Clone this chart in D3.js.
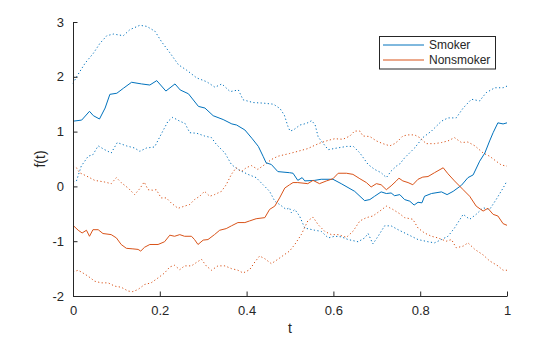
<!DOCTYPE html>
<html><head><meta charset="utf-8">
<script src="https://cdn.jsdelivr.net/npm/d3@7"></script>
<style>body{margin:0;background:#fff}svg{display:block}text{font-family:"Liberation Sans",Arial,sans-serif;fill:#262626}</style>
</head><body><svg id="c" width="560" height="337"></svg>
<script>
const xTicks = [0, 0.2, 0.4, 0.6, 0.8, 1];
const xTickLabels = ["0", "0.2", "0.4", "0.6", "0.8", "1"];
const yTicks = [-2, -1, 0, 1, 2, 3];
const yTickLabels = ["-2", "-1", "0", "1", "2", "3"];
const seriesNames = ["Smoker", "Nonsmoker"];

// [t, f(t)] pairs
const smokerMean = [[0,1.19],[0.020,1.21],[0.038,1.37],[0.047,1.29],[0.061,1.23],[0.074,1.43],[0.085,1.68],[0.101,1.70],[0.116,1.79],[0.135,1.90],[0.158,1.87],[0.177,1.85],[0.193,1.93],[0.214,1.74],[0.235,1.87],[0.247,1.76],[0.266,1.69],[0.289,1.46],[0.304,1.43],[0.323,1.29],[0.346,1.22],[0.366,1.14],[0.377,1.12],[0.396,1.03],[0.412,0.88],[0.427,0.73],[0.438,0.55],[0.445,0.43],[0.457,0.40],[0.472,0.27],[0.499,0.25],[0.507,0.24],[0.518,0.11],[0.528,0.16],[0.534,0.10],[0.557,0.11],[0.572,0.13],[0.599,0.13],[0.618,0.05],[0.649,-0.09],[0.672,-0.26],[0.684,-0.24],[0.695,-0.18],[0.710,-0.10],[0.722,-0.13],[0.733,-0.12],[0.741,-0.17],[0.753,-0.15],[0.764,-0.24],[0.776,-0.27],[0.786,-0.34],[0.795,-0.29],[0.804,-0.30],[0.810,-0.18],[0.826,-0.13],[0.849,-0.10],[0.862,-0.15],[0.876,-0.09],[0.895,0.02],[0.910,0.16],[0.922,0.21],[0.937,0.46],[0.949,0.61],[0.960,0.83],[0.968,0.98],[0.979,1.16],[0.991,1.14],[1,1.16]];
const smokerUpper = [[0,1.88],[0.009,2.01],[0.028,2.25],[0.047,2.43],[0.062,2.61],[0.078,2.75],[0.093,2.78],[0.116,2.75],[0.131,2.86],[0.154,2.94],[0.170,2.92],[0.189,2.83],[0.204,2.64],[0.224,2.43],[0.243,2.22],[0.262,2.12],[0.285,1.98],[0.308,1.91],[0.327,1.81],[0.343,1.87],[0.362,1.73],[0.381,1.76],[0.392,1.58],[0.415,1.53],[0.438,1.52],[0.462,1.50],[0.477,1.42],[0.487,1.30],[0.495,1.10],[0.500,1.01],[0.508,1.03],[0.523,1.12],[0.538,1.15],[0.550,1.20],[0.558,1.12],[0.565,0.90],[0.573,0.82],[0.588,0.67],[0.608,0.70],[0.631,0.73],[0.646,0.73],[0.661,0.61],[0.680,0.40],[0.695,0.31],[0.710,0.25],[0.722,0.16],[0.733,0.28],[0.745,0.37],[0.753,0.41],[0.764,0.52],[0.787,0.70],[0.806,0.89],[0.826,1.01],[0.849,1.19],[0.864,1.25],[0.883,1.25],[0.899,1.43],[0.918,1.59],[0.937,1.56],[0.952,1.71],[0.972,1.80],[0.991,1.80],[1,1.83]];
const smokerLower = [[0,0.08],[0.008,0.10],[0.019,0.37],[0.035,0.55],[0.046,0.58],[0.058,0.74],[0.073,0.67],[0.088,0.61],[0.102,0.80],[0.123,0.74],[0.142,0.70],[0.154,0.64],[0.169,0.70],[0.188,0.72],[0.203,0.95],[0.219,1.19],[0.230,1.26],[0.246,1.19],[0.258,1.15],[0.269,0.98],[0.285,0.97],[0.303,0.92],[0.319,0.89],[0.330,0.77],[0.350,0.61],[0.365,0.40],[0.380,0.31],[0.403,0.22],[0.422,0.16],[0.438,0.03],[0.453,-0.09],[0.465,-0.27],[0.476,-0.33],[0.491,-0.42],[0.499,-0.39],[0.503,-0.48],[0.511,-0.42],[0.522,-0.54],[0.534,-0.76],[0.557,-0.80],[0.572,-0.82],[0.588,-0.94],[0.603,-0.91],[0.618,-0.92],[0.634,-0.97],[0.657,-1.01],[0.672,-0.94],[0.680,-0.86],[0.691,-1.05],[0.703,-0.91],[0.718,-0.72],[0.733,-0.72],[0.749,-0.79],[0.772,-0.88],[0.795,-0.97],[0.818,-1.01],[0.833,-1.03],[0.849,-0.97],[0.864,-0.91],[0.879,-0.76],[0.899,-0.51],[0.914,-0.60],[0.929,-0.51],[0.945,-0.39],[0.960,-0.42],[0.975,-0.24],[0.991,-0.03],[1,0.10]];
const nonsmokerMean = [[0,-0.71],[0.012,-0.80],[0.021,-0.85],[0.031,-0.80],[0.038,-0.91],[0.046,-0.79],[0.058,-0.79],[0.069,-0.86],[0.088,-0.88],[0.100,-0.94],[0.111,-1.06],[0.123,-1.13],[0.138,-1.14],[0.150,-1.15],[0.156,-1.18],[0.165,-1.11],[0.177,-1.06],[0.196,-1.06],[0.211,-1.01],[0.223,-0.89],[0.234,-0.91],[0.246,-0.88],[0.257,-0.91],[0.273,-0.91],[0.280,-0.97],[0.288,-1.06],[0.300,-0.98],[0.311,-0.97],[0.326,-0.88],[0.338,-0.80],[0.353,-0.77],[0.365,-0.72],[0.380,-0.66],[0.396,-0.66],[0.407,-0.63],[0.422,-0.59],[0.442,-0.57],[0.453,-0.42],[0.465,-0.36],[0.476,-0.21],[0.488,-0.03],[0.499,0.03],[0.507,0.07],[0.518,0.07],[0.541,0.05],[0.553,0.11],[0.568,0.05],[0.584,0.10],[0.599,0.14],[0.611,0.24],[0.630,0.24],[0.645,0.22],[0.661,0.14],[0.676,0.07],[0.687,-0.01],[0.699,0.05],[0.710,0.03],[0.722,-0.06],[0.733,0.01],[0.745,0.10],[0.751,0.15],[0.760,0.10],[0.772,0.07],[0.783,0.03],[0.795,0.13],[0.806,0.17],[0.818,0.18],[0.833,0.25],[0.853,0.34],[0.864,0.23],[0.879,0.10],[0.899,-0.06],[0.914,-0.18],[0.929,-0.36],[0.945,-0.45],[0.956,-0.40],[0.968,-0.51],[0.979,-0.54],[0.991,-0.68],[1,-0.71]];
const nonsmokerUpper = [[0,0.37],[0.008,0.34],[0.015,0.25],[0.031,0.19],[0.050,0.11],[0.073,0.08],[0.088,0.05],[0.100,0.16],[0.111,0.07],[0.127,-0.03],[0.142,-0.15],[0.154,-0.04],[0.164,0.08],[0.173,-0.06],[0.184,-0.07],[0.192,-0.06],[0.203,-0.21],[0.215,-0.21],[0.226,-0.30],[0.242,-0.40],[0.257,-0.36],[0.269,-0.33],[0.280,-0.24],[0.292,-0.18],[0.303,-0.09],[0.315,-0.18],[0.326,-0.15],[0.342,-0.09],[0.353,0.03],[0.365,0.22],[0.376,0.34],[0.388,0.27],[0.399,0.34],[0.411,0.38],[0.426,0.31],[0.442,0.40],[0.457,0.49],[0.472,0.55],[0.488,0.58],[0.499,0.60],[0.518,0.64],[0.541,0.69],[0.557,0.75],[0.572,0.80],[0.588,0.84],[0.603,0.87],[0.622,0.86],[0.638,0.92],[0.649,1.01],[0.661,1.01],[0.668,0.92],[0.684,0.91],[0.699,0.83],[0.714,0.78],[0.730,0.74],[0.741,0.78],[0.749,0.83],[0.760,0.92],[0.772,0.94],[0.787,0.94],[0.799,0.89],[0.814,0.78],[0.833,0.78],[0.849,0.80],[0.864,0.83],[0.879,0.89],[0.895,0.80],[0.910,0.81],[0.926,0.74],[0.945,0.61],[0.960,0.55],[0.975,0.46],[0.987,0.39],[1,0.37]];
const nonsmokerLower = [[0,-1.56],[0.012,-1.53],[0.023,-1.58],[0.035,-1.64],[0.050,-1.73],[0.065,-1.76],[0.081,-1.76],[0.096,-1.82],[0.111,-1.84],[0.127,-1.91],[0.138,-1.92],[0.150,-1.88],[0.165,-1.79],[0.180,-1.76],[0.196,-1.67],[0.211,-1.58],[0.223,-1.47],[0.234,-1.44],[0.246,-1.52],[0.257,-1.45],[0.273,-1.45],[0.284,-1.39],[0.296,-1.33],[0.307,-1.45],[0.319,-1.53],[0.334,-1.45],[0.350,-1.45],[0.365,-1.50],[0.380,-1.53],[0.392,-1.58],[0.407,-1.52],[0.419,-1.38],[0.430,-1.27],[0.442,-1.32],[0.457,-1.41],[0.472,-1.33],[0.488,-1.24],[0.499,-1.18],[0.511,-1.06],[0.526,-0.88],[0.541,-0.63],[0.553,-0.56],[0.565,-0.70],[0.580,-0.82],[0.595,-0.88],[0.611,-0.88],[0.630,-0.93],[0.645,-0.82],[0.661,-0.63],[0.676,-0.57],[0.691,-0.54],[0.707,-0.45],[0.722,-0.36],[0.737,-0.42],[0.753,-0.50],[0.764,-0.57],[0.783,-0.60],[0.795,-0.76],[0.810,-0.85],[0.826,-0.91],[0.841,-0.94],[0.860,-1.00],[0.872,-0.97],[0.883,-1.12],[0.899,-1.09],[0.910,-1.03],[0.926,-1.15],[0.945,-1.25],[0.960,-1.36],[0.979,-1.45],[0.991,-1.53],[1,-1.53]];

const blue = "#0072BD", orange = "#D95319", axisCol = "#262626";
const svg = d3.select("#c");
const L = 73, R = 507, T = 22, B = 296;
const x = d3.scaleLinear().domain([0, 1]).range([L, R]);
const y = d3.scaleLinear().domain([-2, 3]).range([B, T]);
const line = d3.line().x(d => x(d[0])).y(d => y(d[1]));

const curves = [
  {data: smokerUpper, color: blue, dotted: true},
  {data: smokerLower, color: blue, dotted: true},
  {data: nonsmokerUpper, color: orange, dotted: true},
  {data: nonsmokerLower, color: orange, dotted: true},
  {data: smokerMean, color: blue, dotted: false},
  {data: nonsmokerMean, color: orange, dotted: false}
];
svg.append("g").selectAll("path").data(curves).join("path")
  .attr("d", d => line(d.data)).attr("fill", "none")
  .attr("stroke", d => d.color).attr("stroke-width", 1)
  .attr("stroke-dasharray", d => d.dotted ? "1.2,2.4" : null);

// axes
const xa = d3.axisBottom(x).tickValues(xTicks).tickFormat((d, i) => xTickLabels[i]).tickSizeInner(-4.5).tickSizeOuter(0).tickPadding(10);
const ya = d3.axisLeft(y).tickValues(yTicks).tickFormat((d, i) => yTickLabels[i]).tickSizeInner(-4.5).tickSizeOuter(0).tickPadding(9);
const gx = svg.append("g").attr("transform", `translate(0,${B})`).call(xa);
const gy = svg.append("g").attr("transform", `translate(${L},0)`).call(ya);
[gx, gy].forEach(g => {
  g.select(".domain").attr("stroke", axisCol).attr("stroke-width", 1);
  g.selectAll(".tick line").attr("stroke", axisCol);
  g.selectAll(".tick text").attr("font-size", 13).attr("fill", axisCol).style("font-family", '"Liberation Sans",Arial,sans-serif');
});
svg.append("text").attr("x", (L + R) / 2).attr("y", 333).attr("text-anchor", "middle").attr("font-size", 14).text("t");
svg.append("text").attr("transform", `translate(45,${(T + B) / 2}) rotate(-90)`).attr("text-anchor", "middle").attr("font-size", 14).text("f(t)");

// legend
const lg = svg.append("g");
lg.append("rect").attr("x", 379.5).attr("y", 36.5).attr("width", 116).attr("height", 32.5).attr("fill", "#fff").attr("stroke", axisCol).attr("stroke-width", 1);
[blue, orange].forEach((c, i) => {
  const yy = 45 + i * 15;
  lg.append("line").attr("x1", 383).attr("x2", 424).attr("y1", yy).attr("y2", yy).attr("stroke", c).attr("stroke-width", 1);
  lg.append("text").attr("x", 429).attr("y", yy + 4.3).attr("font-size", 12).text(seriesNames[i]);
});
</script></body></html>
